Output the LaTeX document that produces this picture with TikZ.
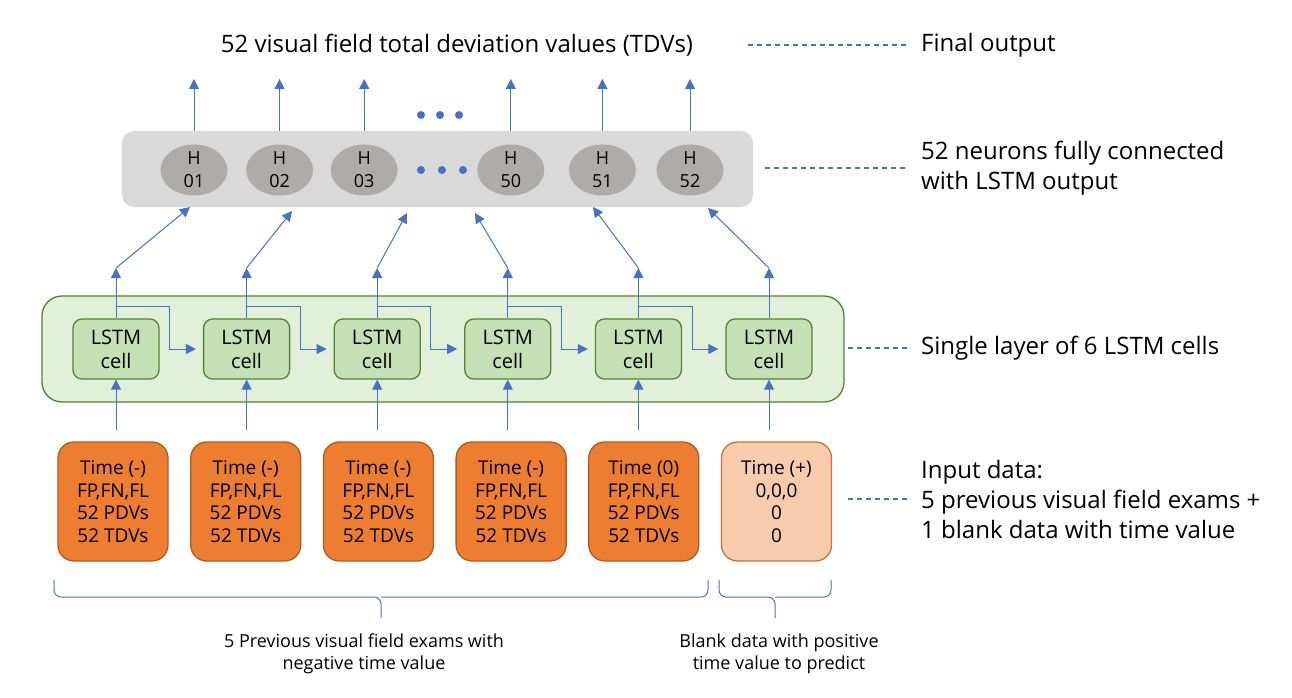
\documentclass[tikz,border=0pt]{standalone}
\usepackage{fontspec}
\setmainfont{Open Sans}
\usetikzlibrary{positioning,arrows.meta,shapes.geometric}

\definecolor{lineblue}{HTML}{4472C4}
\definecolor{panelgrey}{HTML}{D9D9D9}
\definecolor{neurongrey}{HTML}{AFABAB}
\definecolor{layergreen}{HTML}{E2F0D9}
\definecolor{cellgreen}{HTML}{C5E0B4}
\definecolor{edgegreen}{HTML}{548235}
\definecolor{examorange}{HTML}{ED7D31}
\definecolor{examedge}{HTML}{AE5A21}
\definecolor{blankorange}{HTML}{F8CBAD}
\definecolor{blankedge}{HTML}{C5733A}

\tikzstyle{hpanel} = [rectangle, rounded corners=12pt, minimum width=631pt, minimum height=76pt, fill=panelgrey]
\tikzstyle{lpanel} = [rectangle, rounded corners=20pt, minimum width=802pt, minimum height=106pt, draw=edgegreen, line width=1.3pt, fill=layergreen]
\tikzstyle{hid} = [ellipse, minimum width=67pt, minimum height=51pt, inner sep=0pt, align=center, fill=neurongrey, font=\fontsize{18}{23}\selectfont]
\tikzstyle{cell} = [rectangle, rounded corners=9pt, minimum width=86pt, minimum height=60pt, align=center, draw=edgegreen, line width=1.3pt, fill=cellgreen, font=\fontsize{20}{24}\selectfont]
\tikzstyle{exam} = [rectangle, rounded corners=16pt, minimum width=110pt, minimum height=119pt, align=center, draw=examedge, line width=1.3pt, fill=examorange, font=\fontsize{19}{22.7}\selectfont]
\tikzstyle{blankexam} = [exam, draw=blankedge, fill=blankorange]
\tikzstyle{dotnode} = [circle, minimum size=8pt, inner sep=0pt, fill=lineblue]
\tikzstyle{lbl} = [anchor=west, align=left, inner sep=0pt, font=\fontsize{24}{30}\selectfont]
\tikzstyle{bracenote} = [align=center, inner sep=0pt, font=\fontsize{18}{22}\selectfont]
\tikzstyle{link} = [-{Triangle[length=10pt,width=10pt]}, lineblue, line width=1pt]
\tikzstyle{guide} = [lineblue, line width=1.3pt, dash pattern=on 5pt off 4pt, shorten >=14pt]
\tikzstyle{bracepath} = [lineblue, line width=1pt, rounded corners=7pt]

\begin{document}
\begin{tikzpicture}[x=1pt,y=-1pt,node distance=130.6pt]
        \useasboundingbox (0,0) rectangle (1292,698);
        % panels behind the nodes
        \node[hpanel] (hbox) at (437.5,169) {};
        \node[lpanel] (lbox) at (443,349) {};
        % output layer
        \node[font=\fontsize{24}{30}\selectfont] (title) at (457,45) {52 visual field total deviation values (TDVs)};
        \node[hid] (h1) at (194,170) {H\\01};
        \node[hid] (h2) [right of=h1, xshift=-45pt] {H\\02};
        \node[hid] (h3) [right of=h2, xshift=-46pt] {H\\03};
        \node[hid] (h50) [right of=h3, xshift=16pt] {H\\50};
        \node[hid] (h51) [right of=h50, xshift=-39pt] {H\\51};
        \node[hid] (h52) [right of=h51, xshift=-43pt] {H\\52};
        \node[dotnode] (d1) at (421,170) {};
        \node[dotnode] (d2) at (442,170) {};
        \node[dotnode] (d3) at (463,170) {};
        \node[dotnode] (u1) at (421,115) {};
        \node[dotnode] (u2) at (440,115) {};
        \node[dotnode] (u3) at (459,115) {};
        % LSTM layer
        \node[cell] (c1) at (116,349) {LSTM\\cell};
        \node[cell] (c2) [right of=c1] {LSTM\\cell};
        \node[cell] (c3) [right of=c2] {LSTM\\cell};
        \node[cell] (c4) [right of=c3] {LSTM\\cell};
        \node[cell] (c5) [right of=c4] {LSTM\\cell};
        \node[cell] (c6) [right of=c5] {LSTM\\cell};
        % input data
        \node[exam] (in1) at (113,501.5) {Time (-)\\FP,FN,FL\\52 PDVs\\52 TDVs};
        \node[exam] (in2) [right of=in1, xshift=2.1pt] {Time (-)\\FP,FN,FL\\52 PDVs\\52 TDVs};
        \node[exam] (in3) [right of=in2, xshift=2.1pt] {Time (-)\\FP,FN,FL\\52 PDVs\\52 TDVs};
        \node[exam] (in4) [right of=in3, xshift=2.1pt] {Time (-)\\FP,FN,FL\\52 PDVs\\52 TDVs};
        \node[exam] (in5) [right of=in4, xshift=2.1pt] {Time (0)\\FP,FN,FL\\52 PDVs\\52 TDVs};
        \node[blankexam] (in6) [right of=in5, xshift=2.1pt] {Time (+)\\0,0,0\\0\\0};
        % final outputs
        \coordinate (top) at (0,79);
        \draw[link] (h1 |- hbox.north) -- (h1 |- top);
        \draw[link] (h2 |- hbox.north) -- (h2 |- top);
        \draw[link] (h3 |- hbox.north) -- (h3 |- top);
        \draw[link] (h50 |- hbox.north) -- (h50 |- top);
        \draw[link] (h51 |- hbox.north) -- (h51 |- top);
        \draw[link] (h52 |- hbox.north) -- (h52 |- top);
        % LSTM outputs up to the neurons
        \coordinate (mid) at (0,268);
        \coordinate (e1) at (190,207);
        \coordinate (e2) at (292,211);
        \coordinate (e3) at (407,213);
        \coordinate (e4) at (475,213);
        \coordinate (e5) at (593,207);
        \coordinate (e6) at (708,208);
        \draw[link] (c1.north) -- (c1 |- mid); \draw[link] (c1 |- mid) -- (e1);
        \draw[link] (c2.north) -- (c2 |- mid); \draw[link] (c2 |- mid) -- (e2);
        \draw[link] (c3.north) -- (c3 |- mid); \draw[link] (c3 |- mid) -- (e3);
        \draw[link] (c4.north) -- (c4 |- mid); \draw[link] (c4 |- mid) -- (e4);
        \draw[link] (c5.north) -- (c5 |- mid); \draw[link] (c5 |- mid) -- (e5);
        \draw[link] (c6.north) -- (c6 |- mid); \draw[link] (c6 |- mid) -- (e6);
        % recurrent state
        \draw[link, shorten >=7pt] ([yshift=12pt]c1.north) -| ([xshift=10pt]c1.east) |- (c2.west);
        \draw[link, shorten >=7pt] ([yshift=12pt]c2.north) -| ([xshift=10pt]c2.east) |- (c3.west);
        \draw[link, shorten >=7pt] ([yshift=12pt]c3.north) -| ([xshift=10pt]c3.east) |- (c4.west);
        \draw[link, shorten >=7pt] ([yshift=12pt]c4.north) -| ([xshift=10pt]c4.east) |- (c5.west);
        \draw[link, shorten >=7pt] ([yshift=12pt]c5.north) -| ([xshift=10pt]c5.east) |- (c6.west);
        % inputs into the cells
        \draw[link, shorten <=11pt] (c1 |- in1.north) -- (c1.south);
        \draw[link, shorten <=11pt] (c2 |- in2.north) -- (c2.south);
        \draw[link, shorten <=11pt] (c3 |- in3.north) -- (c3.south);
        \draw[link, shorten <=11pt] (c4 |- in4.north) -- (c4.south);
        \draw[link, shorten <=11pt] (c5 |- in5.north) -- (c5.south);
        \draw[link, shorten <=11pt] (c6 |- in6.north) -- (c6.south);
        % braces
        \draw[bracepath] (54,580) |- (381,597) -- (381,618);
        \draw[bracepath] (708,580) |- (381,597);
        \draw[bracepath] (719,580) |- (775,597) -- (775,618);
        \draw[bracepath] (831,580) |- (775,597);
        \node[bracenote] (n1) at (364,654) {5 Previous visual field exams with\\negative time value};
        \node[bracenote] (n2) at (779,654) {Blank data with positive\\time value to predict};
        % legend
        \node[lbl] (l1) at (921,45) {Final output};
        \node[lbl] (l2) at (921,168) {52 neurons fully connected\\with LSTM output};
        \node[lbl] (l3) at (921,348) {Single layer of 6 LSTM cells};
        \node[lbl] (l4) at (921,499) {Input data:\\5 previous visual field exams +\\1 blank data with time value};
        \coordinate (g1) at (748,45);
        \coordinate (g2) at (765,168);
        \coordinate (g3) at (848,348);
        \coordinate (g4) at (848,499);
        \draw[guide] (g1) -- (l1.west);
        \draw[guide] (g2) -- (l2.west);
        \draw[guide] (g3) -- (l3.west);
        \draw[guide] (g4) -- (l4.west);
    \end{tikzpicture}
\end{document}
